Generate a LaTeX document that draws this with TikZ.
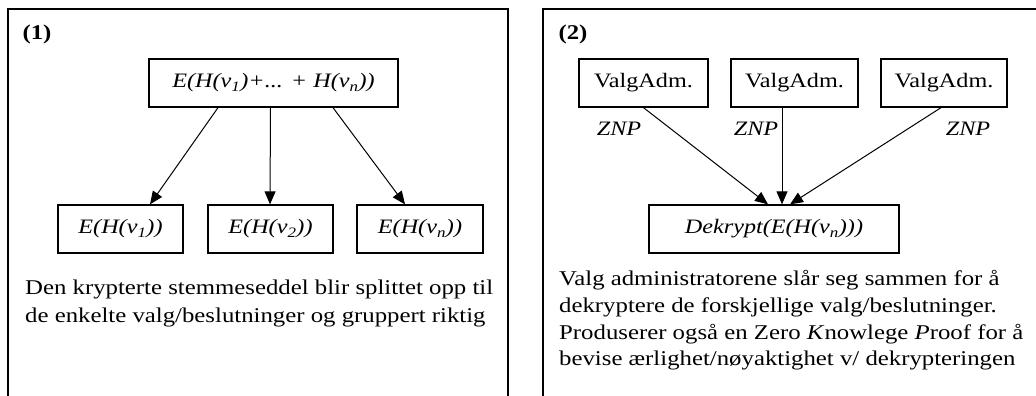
\documentclass[tikz,border=0pt]{standalone}
\usepackage{fontspec}
\setmainfont{Liberation Serif}[FakeStretch=1.18]
\usetikzlibrary{arrows.meta}
\newcommand\sub[1]{\textsubscript{#1}}
\begin{document}
\begin{tikzpicture}[x=1pt,y=-1pt,
  panel/.style={draw, line width=1.7pt},
  box/.style={draw, line width=1.3pt, minimum height=48pt, inner sep=0pt,
    font=\fontsize{20.5}{24}\selectfont\itshape},
  admbox/.style={box, font=\fontsize{20.5}{24}\selectfont},
  link/.style={line width=1pt, -{Triangle[length=13pt,width=11pt]}},
  tag/.style={inner sep=0pt, font=\fontsize{20.5}{24}\selectfont\itshape},
  num/.style={inner sep=0pt, font=\fontsize{21}{24}\selectfont\bfseries},
  para/.style={anchor=north west, inner sep=0pt, align=left,
    font=\fontsize{21}{28}\selectfont}
]
\fill[white] (0,0) rectangle (1036,396);
\useasboundingbox (0,0) rectangle (1036,396);
\begin{scope}
\clip (0,0) rectangle (1036,396);

% panel frames (open at the bottom / right)
\draw[panel] (8,400) -- (8,9) -- (508,9) -- (508,400);
\draw[panel] (543,400) -- (543,9) -- (1040,9);

% panel (1): splitting the encrypted ballot
\node[num] (n1) at (37,34) {(1)};
\node[box, minimum width=249pt] (sum) at (273.5,83) {E(H(v\sub{1})+... + H(v\sub{n}))};
\node[box, minimum width=125pt] (e1) at (120.5,229) {E(H(v\sub{1}))};
\node[box, minimum width=125pt] (e2) at (270.5,229) {E(H(v\sub{2}))};
\node[box, minimum width=126pt] (e3) at (420,229) {E(H(v\sub{n}))};
\draw[link] ([xshift=-55.5pt]sum.south) -- ([xshift=29.5pt]e1.north);
\draw[link] ([xshift=-3pt]sum.south) -- ([xshift=-0.5pt]e2.north);
\draw[link] ([xshift=59.5pt]sum.south) -- ([xshift=-15pt]e3.north);
\node[para] (t1) at (25,280) {Den krypterte stemmeseddel blir splittet opp til\\
  de enkelte valg/beslutninger og gruppert riktig};

% panel (2): joint decryption by the election administrators
\node[num] (n2) at (573,34) {(2)};
\node[admbox, minimum width=129pt] (a1) at (643.5,83) {ValgAdm.};
\node[admbox, minimum width=127pt] (a2) at (794.5,83) {ValgAdm.};
\node[admbox, minimum width=126pt] (a3) at (944,83) {ValgAdm.};
\node[box, minimum width=250pt] (dec) at (774,229) {Dekrypt(E(H(v\sub{n})))};
\draw[link] (a1.south) -- ([xshift=-6pt]dec.north);
\draw[link] ([xshift=-12.5pt]a2.south) -- ([xshift=8pt]dec.north);
\draw[link] ([xshift=-3pt]a3.south) -- ([xshift=16pt]dec.north);
\node[tag] (z1) at (619,129) {ZNP};
\node[tag] (z2) at (756,129) {ZNP};
\node[tag] (z3) at (968,129) {ZNP};
\node[para, font=\fontsize{21}{26.8}\selectfont] (t2) at (559,270)
  {Valg administratorene slår seg sammen for å\\
   dekryptere de forskjellige valg/beslutninger.\\
   Produserer også en Zero \textit{K}nowlege \textit{P}roof for å\\
   bevise ærlighet/nøyaktighet v/ dekrypteringen};
\end{scope}
\end{tikzpicture}
\end{document}
